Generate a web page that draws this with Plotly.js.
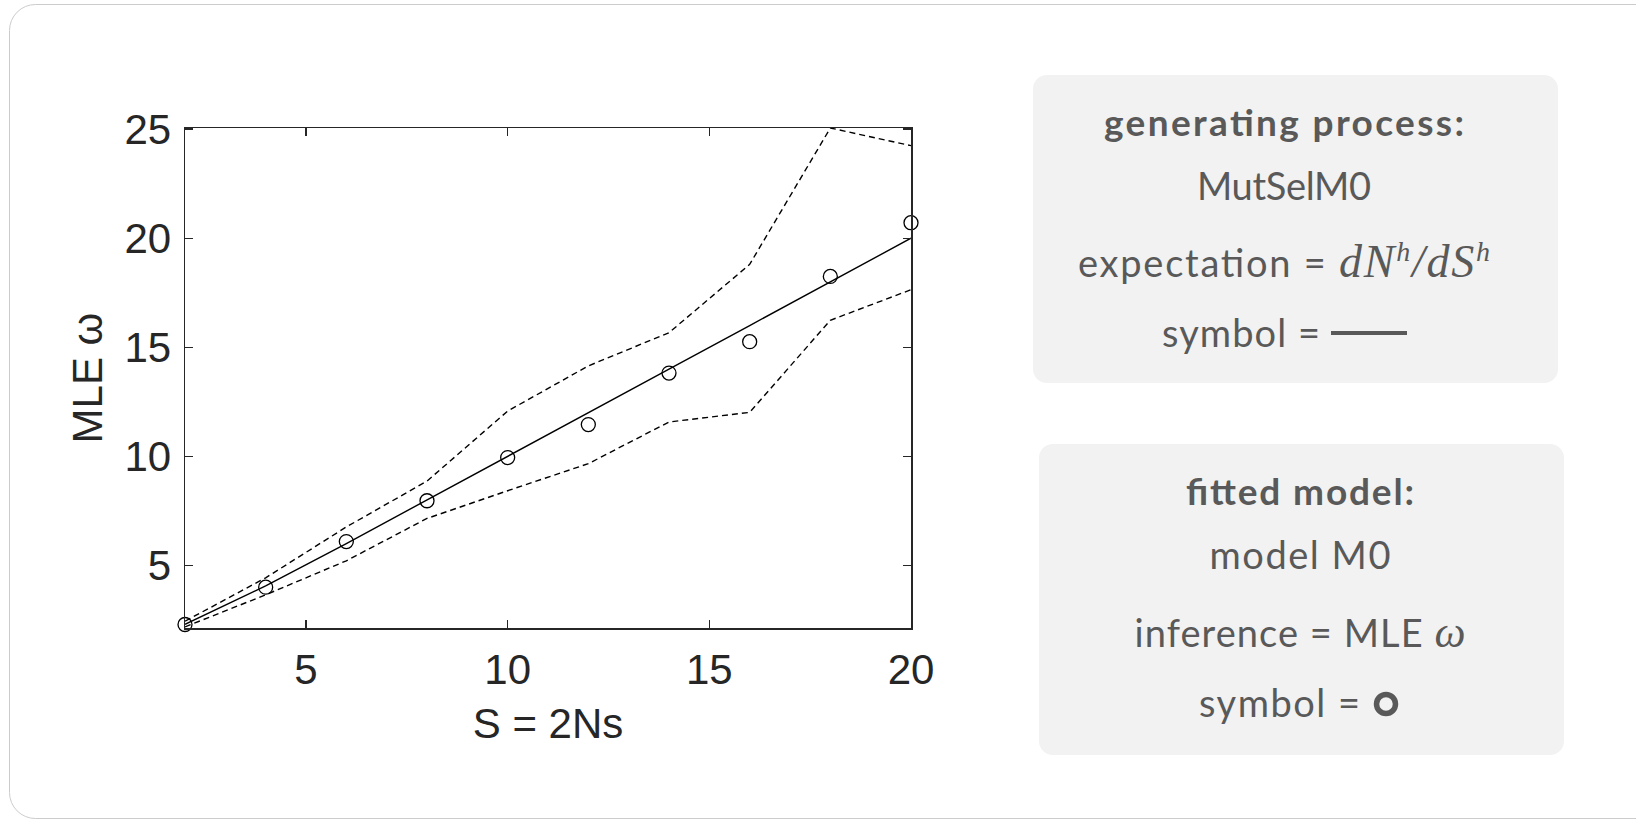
<!DOCTYPE html>
<html>
<head>
<meta charset="utf-8">
<script src="https://cdn.plot.ly/plotly-3.0.1.min.js"></script>
<style>
  html, body { margin: 0; padding: 0; background: #ffffff; overflow: hidden; }
  #wrap { position: relative; width: 1636px; height: 822px; }
  #bg { position: absolute; left: 0; top: 0; z-index: 0; }
  #chart { position: absolute; left: 0; top: 0; width: 1636px; height: 822px; z-index: 1; }
  #panels { position: absolute; left: 0; top: 0; z-index: 2; pointer-events: none; }
  .reg { font-family: "Lato", "Noto Sans", sans-serif; font-size: 38px; fill: #595959; }
  .hd { font-family: "Lato", "Noto Sans", sans-serif; font-size: 37px; font-weight: 700; fill: #595959; }
  .mth { font-family: "Liberation Serif", "DejaVu Serif", serif; font-style: italic; }
</style>
</head>
<body>
<div id="wrap">
  <svg id="bg" width="1636" height="822">
    <rect x="9.5" y="4.5" width="1700" height="814" rx="26" ry="26" fill="#ffffff" stroke="#cccccc" stroke-width="1"/>
  </svg>
  <div id="chart"></div>
  <svg id="panels" width="1636" height="822">
    <rect x="1033" y="75" width="525" height="308" rx="14" ry="14" fill="#f2f2f2"/>
    <rect x="1039" y="444" width="525" height="311" rx="14" ry="14" fill="#f2f2f2"/>

    <text class="hd" x="1284" y="136" text-anchor="middle" textLength="360" lengthAdjust="spacing">generating process:</text>
    <text class="reg" x="1284" y="200" text-anchor="middle" textLength="174" lengthAdjust="spacing">MutSelM0</text>
    <text class="reg" x="1284" y="277" text-anchor="middle" textLength="412" lengthAdjust="spacing">expectation = <tspan class="mth" font-size="46">dN</tspan><tspan class="mth" font-size="28" dy="-16">h</tspan><tspan class="mth" font-size="46" dy="16">/dS</tspan><tspan class="mth" font-size="28" dy="-16">h</tspan></text>
    <text class="reg" x="1162" y="347" text-anchor="start" textLength="158" lengthAdjust="spacing">symbol =</text>
    <rect x="1331" y="331" width="76" height="4" fill="#595959"/>

    <text class="hd" x="1300" y="505" text-anchor="middle" textLength="228" lengthAdjust="spacing">fitted model:</text>
    <text class="reg" x="1300" y="569" text-anchor="middle" textLength="181" lengthAdjust="spacing">model M0</text>
    <text class="reg" x="1300" y="647" text-anchor="middle" textLength="331" lengthAdjust="spacing">inference = MLE <tspan class="mth" font-size="44">ω</tspan></text>
    <text class="reg" x="1199" y="717" text-anchor="start" textLength="161" lengthAdjust="spacing">symbol =</text>
    <circle cx="1386" cy="704" r="9.5" fill="none" stroke="#595959" stroke-width="5.5"/>
  </svg>
</div>
<script>
// ---- data ----
const S = [2, 4, 6, 8, 10, 12, 14, 16, 18, 20];
const expectation = [2.31, 4.07, 6.01, 8.00, 10.00, 12.00, 14.00, 16.00, 18.00, 20.00];
const mleOmega = [2.30, 4.01, 6.10, 7.97, 9.95, 11.46, 13.82, 15.26, 18.25, 20.71];
const upperBound = [2.45, 4.44, 6.77, 8.87, 12.08, 14.15, 15.67, 18.80, 25.05, 24.24];
const lowerBound = [2.19, 3.66, 5.22, 7.16, 8.43, 9.67, 11.58, 12.02, 16.24, 17.64];
const xTickVals = [5, 10, 15, 20];
const yTickVals = [5, 10, 15, 20, 25];

const ink = '#262626';
const axisFont = { family: 'Liberation Sans, Arial, sans-serif', size: 42, color: ink };

const traces = [
  { x: S, y: upperBound, mode: 'lines', line: { color: '#000', width: 1.4, dash: '6px,4px' }, name: 'upper', hoverinfo: 'skip' },
  { x: S, y: lowerBound, mode: 'lines', line: { color: '#000', width: 1.4, dash: '6px,4px' }, name: 'lower', hoverinfo: 'skip' },
  { x: S, y: expectation, mode: 'lines', line: { color: '#000', width: 1.4 }, name: 'expectation' },
  { x: S, y: mleOmega, mode: 'markers', marker: { symbol: 'circle-open', size: 14, color: '#000', line: { width: 1.3, color: '#000' } }, name: 'MLE ω', cliponaxis: false }
];

const axisCommon = {
  showgrid: false, zeroline: false, showline: true, linecolor: ink, linewidth: 1.5,
  mirror: 'allticks', ticks: 'inside', ticklen: 8, tickwidth: 1.3, tickcolor: ink,
  tickfont: axisFont, tickmode: 'array'
};

const layout = {
  width: 1636, height: 822,
  margin: { l: 185, r: 725, t: 128, b: 194 },
  paper_bgcolor: 'rgba(0,0,0,0)', plot_bgcolor: '#ffffff',
  showlegend: false,
  xaxis: Object.assign({}, axisCommon, {
    range: [2, 20], tickvals: xTickVals, ticktext: xTickVals.map(String),
    ticklabelstandoff: 4,
    title: { text: 'S = 2Ns', font: axisFont, standoff: 16 }
  }),
  yaxis: Object.assign({}, axisCommon, {
    range: [2.14, 25.05], tickvals: yTickVals, ticktext: yTickVals.map(String),
    ticklabelstandoff: 4,
    title: { text: 'MLE ω', font: axisFont, standoff: 8 }
  })
};

Plotly.newPlot('chart', traces, layout, { staticPlot: true, displayModeBar: false });
</script>
</body>
</html>
